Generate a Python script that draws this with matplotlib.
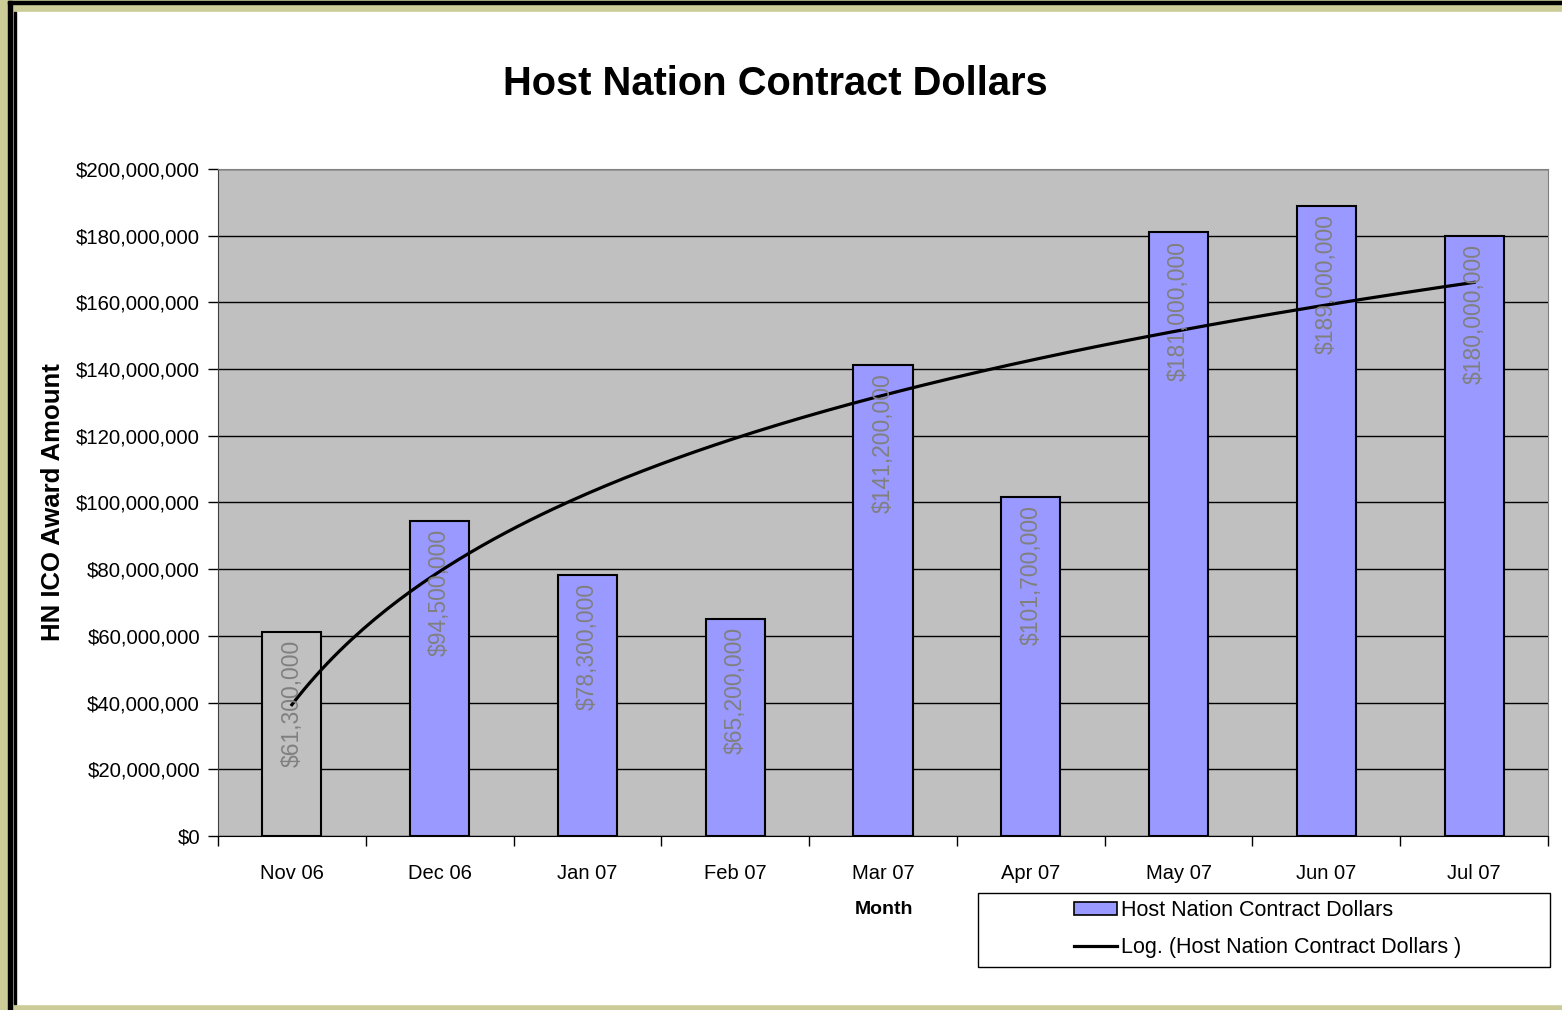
import matplotlib.pyplot as plt
import numpy as np
from matplotlib.patches import Rectangle
from matplotlib.lines import Line2D

months = ["Nov 06", "Dec 06", "Jan 07", "Feb 07", "Mar 07", "Apr 07", "May 07", "Jun 07", "Jul 07"]
amounts = [61300000, 94500000, 78300000, 65200000, 141200000, 101700000, 181000000, 189000000, 180000000]
labels = ["$61,300,000", "$94,500,000", "$78,300,000", "$65,200,000", "$141,200,000",
          "$101,700,000", "$181,000,000", "$189,000,000", "$180,000,000"]

plt.rcParams['font.family'] = ['Liberation Sans', 'DejaVu Sans']

W, H = 1562, 1010
fig = plt.figure(figsize=(W / 100, H / 100), dpi=100)


def px(x0, y0, x1, y1):
    # pixel box -> figure fraction (left, bottom, width, height)
    return (x0 / W, 1 - y1 / H, (x1 - x0) / W, (y1 - y0) / H)


# frame around the chart
khaki = '#CCCC99'
fig.patches.append(Rectangle((0, 0), 1, 1, transform=fig.transFigure, color=khaki, zorder=-3))
l, b, w, h = px(17, 12, W + 5, 1004)
fig.patches.append(Rectangle((l, b), w, h, transform=fig.transFigure, color='white', zorder=-2))
for box in [px(8, 1, 12, 1010), px(8, 1, W + 5, 4), px(14, 12, 16, 1004)]:
    fig.patches.append(Rectangle(box[:2], box[2], box[3], transform=fig.transFigure,
                                 color='black', zorder=-1))

ax = fig.add_axes(px(218, 169, 1548, 836))
ax.set_facecolor('#C0C0C0')

x = np.arange(1, len(months) + 1)
colors = ['#C0C0C0'] + ['#9999FF'] * (len(months) - 1)
ax.bar(x, amounts, width=0.4, color=colors, edgecolor='black', linewidth=1.5, zorder=3)

for xi, val, lab in zip(x, amounts, labels):
    ax.text(xi, val - 2500000, lab, rotation=90, ha='center', va='top',
            fontsize=16.5, color='#808080', zorder=5)

# logarithmic trendline fitted to the data
coef = np.polyfit(np.log(x), amounts, 1)
xs = np.linspace(1, len(months), 200)
ax.plot(xs, coef[0] * np.log(xs) + coef[1], color='black', lw=2.3, zorder=4)

ax.set_xlim(0.5, len(months) + 0.5)
ax.set_ylim(0, 200000000)
ax.set_yticks(np.arange(0, 200000001, 20000000))
ax.set_yticklabels(["${:,.0f}".format(v) for v in np.arange(0, 200000001, 20000000)])
ax.yaxis.grid(True, color='black', lw=1, zorder=1)
ax.set_axisbelow(True)
ax.set_xticks(x)
ax.set_xticklabels(months)
ax.set_xticks(np.arange(0.5, len(months) + 1, 1), minor=True)
ax.tick_params(axis='x', which='major', length=0, pad=20, labelsize=14.5)
ax.tick_params(axis='x', which='minor', length=7, width=1)
ax.tick_params(axis='y', length=7, width=1, labelsize=14.7, pad=6)

for s in ['top', 'right']:
    ax.spines[s].set_color('#808080')
ax.spines['left'].set_color('#404040')
ax.spines['bottom'].set_color('black')

ax.set_ylabel("HN ICO Award Amount", fontsize=18.5, fontweight='bold', labelpad=8)
fig.text(884 / W, 1 - 910 / H, "Month", ha='center', va='center', fontsize=14, fontweight='bold')
fig.text(775 / W, 1 - 84 / H, "Host Nation Contract Dollars", ha='center', va='center',
         fontsize=28.7, fontweight='bold')

# legend box
lb = px(978, 893, 1550, 967)
fig.patches.append(Rectangle(lb[:2], lb[2], lb[3], transform=fig.transFigure,
                             facecolor='white', edgecolor='black', lw=1, zorder=2))
handles = [Rectangle((0, 0), 1, 1, facecolor='#9999FF', edgecolor='black', lw=1.2),
           Line2D([0], [0], color='black', lw=2.3)]
leg = fig.legend(handles, ["Host Nation Contract Dollars", "Log. (Host Nation Contract Dollars )"],
                 loc='center left', bbox_to_anchor=(1074 / W, 1 - 929 / H), frameon=False,
                 fontsize=15.5, handlelength=2.0, handleheight=0.6, handletextpad=0.2,
                 labelspacing=0.75, borderpad=0, borderaxespad=0)

fig.savefig('out.png', dpi=100)
